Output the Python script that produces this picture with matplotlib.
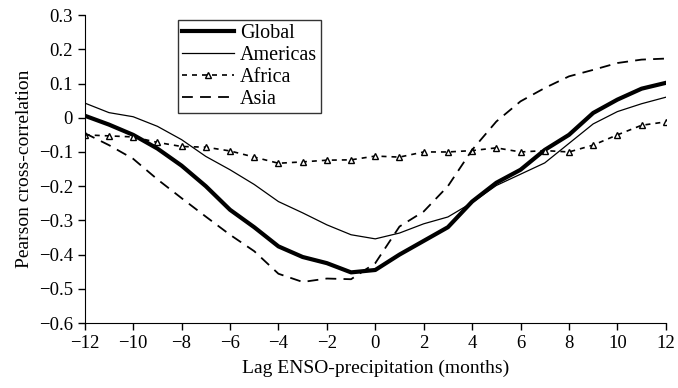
import matplotlib
matplotlib.use("Agg")
import matplotlib.pyplot as plt
from matplotlib.ticker import FuncFormatter

lags = list(range(-12, 13))

global_corr = [0.006, -0.02, -0.05, -0.09, -0.14, -0.20, -0.269, -0.32, -0.376, -0.407,
               -0.425, -0.452, -0.445, -0.40, -0.36, -0.32, -0.245, -0.19, -0.152, -0.094,
               -0.05, 0.014, 0.053, 0.085, 0.102]
americas_corr = [0.043, 0.015, 0.003, -0.025, -0.064, -0.113, -0.152, -0.195, -0.245, -0.278,
                 -0.313, -0.342, -0.354, -0.337, -0.31, -0.29, -0.248, -0.198, -0.165, -0.132,
                 -0.075, -0.018, 0.018, 0.041, 0.06]
africa_corr = [-0.05, -0.053, -0.056, -0.072, -0.084, -0.086, -0.097, -0.115, -0.133, -0.129,
               -0.124, -0.123, -0.112, -0.115, -0.10, -0.10, -0.096, -0.088, -0.10, -0.096,
               -0.10, -0.08, -0.05, -0.022, -0.012]
asia_corr = [-0.045, -0.08, -0.12, -0.18, -0.235, -0.289, -0.342, -0.39, -0.456, -0.48,
             -0.47, -0.472, -0.425, -0.318, -0.274, -0.20, -0.094, -0.011, 0.048, 0.087,
             0.121, 0.14, 0.16, 0.17, 0.173]

plt.rcParams["font.family"] = ["Liberation Serif", "DejaVu Serif"]

fig = plt.figure(figsize=(6.78, 3.88), dpi=100)
ax = fig.add_axes([0.125, 0.1675, 0.857, 0.7935])

ax.plot(lags, global_corr, color="black", linewidth=3, label="Global")
ax.plot(lags, americas_corr, color="black", linewidth=0.9, label="Americas")
ax.plot(lags, africa_corr, color="black", linewidth=1.2, linestyle=(0, (3, 3)),
        marker="^", markersize=5, markerfacecolor="white", markeredgecolor="black",
        markeredgewidth=1.0, label="Africa")
ax.plot(lags, asia_corr, color="black", linewidth=1.3, linestyle=(0, (6, 4)), label="Asia")

ax.set_xlim(-12, 12)
ax.set_ylim(-0.6, 0.3)
ax.set_xticks(range(-12, 13, 2))
ax.set_yticks([0.3, 0.2, 0.1, 0, -0.1, -0.2, -0.3, -0.4, -0.5, -0.6])


def fmt_y(v, pos):
    if abs(v) < 1e-9:
        return "0"
    return f"{v:.1f}".replace("-", "\u2212")


def fmt_x(v, pos):
    return f"{int(round(v))}".replace("-", "\u2212")


ax.yaxis.set_major_formatter(FuncFormatter(fmt_y))
ax.xaxis.set_major_formatter(FuncFormatter(fmt_x))

ax.spines["top"].set_visible(False)
ax.spines["right"].set_visible(False)
ax.tick_params(direction="out", length=5, width=1, labelsize=13.5)

ax.set_xlabel("Lag ENSO-precipitation (months)", fontsize=14, labelpad=6)
ax.set_ylabel("Pearson cross-correlation", fontsize=14, labelpad=4)

leg = ax.legend(loc="upper left", bbox_to_anchor=(0.16, 0.985), fontsize=14.5,
                frameon=True, fancybox=False, edgecolor="black", handlelength=2.6,
                borderpad=0.2, labelspacing=0.15, handletextpad=0.3, borderaxespad=0)
leg.get_frame().set_linewidth(1.0)

fig.savefig("out.png", dpi=100)
